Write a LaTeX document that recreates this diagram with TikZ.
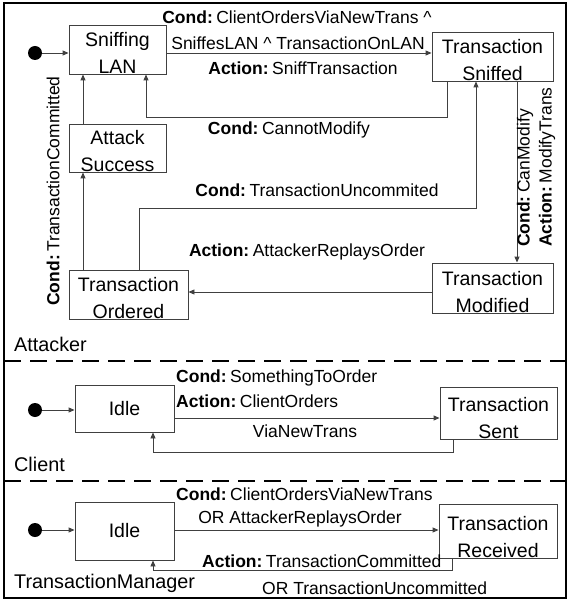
\documentclass[tikz,border=0pt]{standalone}
\usepackage{fontspec}
\setmainfont{Liberation Sans}
\usetikzlibrary{arrows.meta,calc}
\newcommand{\kw}[1]{\textbf{#1}\hspace{3.5pt}}
\begin{document}
\begin{tikzpicture}[x=1pt,y=-1pt,
  box/.style={draw=black!75, line width=0.9pt, inner sep=0pt},
  btext/.style={inner sep=0pt, font=\fontsize{19.5}{27}\selectfont, align=center, anchor=south},
  lbl/.style={inner sep=0pt, font=\fontsize{17.5}{21}\selectfont},
  lane/.style={inner sep=0pt, font=\fontsize{19.8}{23}\selectfont, anchor=west},
  arr/.style={draw=black!75, line width=0.9pt, -{Triangle[length=6pt,width=5pt]}},
  dotst/.style={circle, fill=black, inner sep=0pt, minimum size=14pt},
  sep/.style={line width=2.5pt, dash pattern=on 17pt off 9pt}]
\useasboundingbox (0,0) rectangle (569,601);
\fill[white] (0,0) rectangle (569,601);
\draw[line width=2.5pt] (4,3) rectangle (566,598);
\draw[sep] (4,361) -- (566,361);
\draw[sep] (4,481) -- (566,481);

% ---------- Attacker ----------
\node[dotst] (da) at (35,53) {};
\node[box, minimum width=97pt, minimum height=49pt] (sl) at (117.5,49.5) {};
\node[btext] (slt) at ($(sl.south)+(0,-1)$) {Sniffing\\LAN};
\node[box, minimum width=121pt, minimum height=49pt] (ts) at (492.5,56.5) {};
\node[btext] (tst) at ($(ts.south)+(0,-1)$) {Transaction\\Sniffed};
\node[box, minimum width=97pt, minimum height=48pt] (as) at (117.5,148) {};
\node[btext] (ast) at ($(as.south)+(0,-1)$) {Attack\\Success};
\node[box, minimum width=119pt, minimum height=49pt] (to) at (128.5,294.5) {};
\node[btext] (tot) at ($(to.south)+(0,-1)$) {Transaction\\Ordered};
\node[box, minimum width=121pt, minimum height=50pt] (tmo) at (492.5,288) {};
\node[btext] (tmot) at ($(tmo.south)+(0,-1)$) {Transaction\\Modified};

\draw[arr] (da) -- (sl.west |- da);
\draw[arr] (sl.east |- 0,53) -- (ts.west |- 0,53);
\draw[arr] (ts.south -| 447,0) |- (146,117) -- (sl.south -| 146,0);
\draw[arr] (as.north -| 83,0) -- (sl.south -| 83,0);
\draw[arr] (to.north -| 83,0) -- (as.south -| 83,0);
\draw[arr] (to.north -| 139,0) |- (476,208) -- (ts.south -| 476,0);
\draw[arr] (ts.south -| 517,0) -- (tmo.north -| 517,0);
\draw[arr] (tmo.west |- 0,292) -- (to.east |- 0,292);

\node[lbl] (l1) at (297,17) {\kw{Cond:}ClientOrdersViaNewTrans \textasciicircum};
\node[lbl] (l2) at (298,43) {SniffesLAN \textasciicircum\ TransactionOnLAN};
\node[lbl] (l3) at (303,68) {\kw{Action:}SniffTransaction};
\node[lbl] (l4) at (289,130) {\kw{Cond:}CannotModify};
\node[lbl, rotate=90] (l5) at (53,191) {\kw{Cond:}TransactionCommitted};
\node[lbl] (l6) at (317,190) {\kw{Cond:}TransactionUncommited};
\node[lbl, rotate=90, anchor=west] (l7) at (525,247) {\kw{Cond:}CanModify};
\node[lbl, rotate=90, anchor=west] (l8) at (547,247) {\kw{Action:}ModifyTrans};
\node[lbl] (l9) at (307,252) {\kw{Action:}AttackerReplaysOrder};
\node[lane] (la) at (14,344) {Attacker};

% ---------- Client ----------
\node[dotst] (dc) at (35,410) {};
\node[box, minimum width=99pt, minimum height=47pt, font=\fontsize{19.5}{23}\selectfont] (ci) at (124.5,408.5) {Idle};
\node[box, minimum width=117pt, minimum height=52pt] (cs) at (498.5,413) {};
\node[btext] (cst) at ($(cs.south)+(0,-1)$) {Transaction\\Sent};

\draw[arr] (dc) -- (ci.west |- dc);
\draw[arr] (ci.east |- 0,418) -- (cs.west |- 0,418);
\draw[arr] (cs.south -| 453,0) |- (153,452) -- (ci.south -| 153,0);

\node[lbl, anchor=west] (c1) at (176,378) {\kw{Cond:}SomethingToOrder};
\node[lbl, anchor=west] (c2) at (176,401) {\kw{Action:}ClientOrders};
\node[lbl] (c3) at (305,431) {ViaNewTrans};
\node[lane] (lc) at (14,464) {Client};

% ---------- TransactionManager ----------
\node[dotst] (dm) at (35,530) {};
\node[box, minimum width=99pt, minimum height=58pt, font=\fontsize{19.5}{23}\selectfont] (mi) at (124.5,531) {Idle};
\node[box, minimum width=118pt, minimum height=54pt] (mr) at (498,531) {};
\node[btext] (mrt) at ($(mr.south)+(0,-1)$) {Transaction\\Received};

\draw[arr] (dm) -- (mi.west |- dm);
\draw[arr] (mi.east |- 0,530) -- (mr.west |- 0,530);
\draw[arr] (mr.south -| 452,0) |- (153,570) -- (mi.south -| 153,0);

\node[lbl, anchor=west] (t1) at (176,494) {\kw{Cond:}ClientOrdersViaNewTrans};
\node[lbl] (t2) at (300,519) {OR AttackerReplaysOrder};
\node[lbl, anchor=west] (t3) at (202,561) {\kw{Action:}TransactionCommitted};
\node[lbl, anchor=west] (t4) at (262,588) {OR TransactionUncommitted};
\node[lane] (lm) at (14,583) {TransactionManager};
\end{tikzpicture}
\end{document}
